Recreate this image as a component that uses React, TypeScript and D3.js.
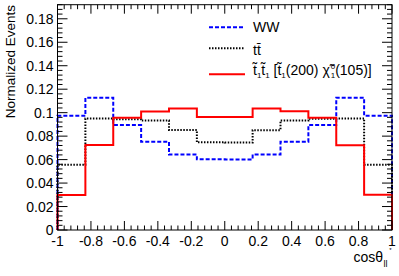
import React from "react";
import * as d3 from "d3";

const binEdges = [-1, -0.8333, -0.6667, -0.5, -0.3333, -0.1667, 0, 0.1667, 0.3333, 0.5, 0.6667, 0.8333, 1];
const wwValues = [0.0973, 0.1127, 0.0894, 0.0752, 0.0643, 0.0602, 0.0601, 0.0643, 0.0752, 0.0894, 0.1128, 0.0974];
const ttValues = [0.0555, 0.0951, 0.0944, 0.0933, 0.0852, 0.0747, 0.0745, 0.0851, 0.0933, 0.0948, 0.0951, 0.0555];
const stopValues = [0.0299, 0.0724, 0.0956, 0.101, 0.1036, 0.0963, 0.0964, 0.1035, 0.1013, 0.0956, 0.0723, 0.03];
const xTickValues = [-1, -0.8, -0.6, -0.4, -0.2, 0, 0.2, 0.4, 0.6, 0.8, 1];
const xTickLabels = ["-1", "-0.8", "-0.6", "-0.4", "-0.2", "0", "0.2", "0.4", "0.6", "0.8", "1"];
const yTickValues = [0, 0.02, 0.04, 0.06, 0.08, 0.1, 0.12, 0.14, 0.16, 0.18];
const yTickLabels = ["0", "0.02", "0.04", "0.06", "0.08", "0.1", "0.12", "0.14", "0.16", "0.18"];

const W = 399, H = 276;
const L = 57.5, R = 392, T = 4.7, B = 230;
const FONT = "'Liberation Sans', Arial, Helvetica, sans-serif";

export default function App() {
  const x = d3.scaleLinear().domain([-1, 1]).range([L, R]);
  const y = d3.scaleLinear().domain([0, 0.192]).range([B, T]);

  const stepPath = (vals: number[]) => {
    const pts: [number, number][] = [[x(binEdges[0]), y(0)]];
    vals.forEach((v, i) => {
      pts.push([x(binEdges[i]), y(v)]);
      pts.push([x(binEdges[i + 1]), y(v)]);
    });
    pts.push([x(binEdges[binEdges.length - 1]), y(0)]);
    return d3.line()(pts) as string;
  };

  const xMinor = d3.range(-1, 1.0001, 0.04);
  const yMinor = d3.range(0, 0.1921, 0.004);

  const fs = 14;
  const series = [
    { vals: wwValues, color: "#0000ff", dash: "4,2", w: 2 },
    { vals: ttValues, color: "#000000", dash: "1.5,1.5", w: 2 },
    { vals: stopValues, color: "#ff0000", dash: null, w: 2 },
  ];

  return (
    <div style={{ position: "fixed", left: 0, top: 0 }}>
      <svg width={W} height={H} style={{ display: "block", background: "#fff" }} fontFamily={FONT}>
        <rect x={0} y={0} width={W} height={H} fill="#fff" />
        {series.map((s, i) => (
          <path key={i} d={stepPath(s.vals)} fill="none" stroke={s.color} strokeWidth={s.w}
            strokeDasharray={s.dash || undefined} />
        ))}
        <rect x={L} y={T} width={R - L} height={B - T} fill="none" stroke="#000" strokeWidth={1} />
        {xMinor.map((v, i) => {
          const isMajor = Math.abs(Math.round(v / 0.2) * 0.2 - v) < 1e-6;
          const len = isMajor ? 9 : 4.5;
          return (
            <g key={"xt" + i} stroke="#000" strokeWidth={1}>
              <line x1={x(v)} x2={x(v)} y1={B} y2={B - len} />
              <line x1={x(v)} x2={x(v)} y1={T} y2={T + len} />
            </g>
          );
        })}
        {yMinor.map((v, i) => {
          const isMajor = Math.abs(Math.round(v / 0.02) * 0.02 - v) < 1e-7;
          const len = isMajor ? 10 : 5;
          return (
            <g key={"yt" + i} stroke="#000" strokeWidth={1}>
              <line x1={L} x2={L + len} y1={y(v)} y2={y(v)} />
              <line x1={R} x2={R - len} y1={y(v)} y2={y(v)} />
            </g>
          );
        })}
        {xTickValues.map((v, i) => (
          <text key={"xl" + i} x={x(v)} y={245.5} textAnchor="middle" fontSize={fs} fill="#000">
            {xTickLabels[i]}
          </text>
        ))}
        {yTickValues.map((v, i) => (
          <text key={"yl" + i} x={53.5} y={y(v)} dy="0.36em" textAnchor="end" fontSize={fs} fill="#000">
            {yTickLabels[i]}
          </text>
        ))}
        <text transform="translate(15,5) rotate(-90)" textAnchor="end" fontSize={13.5} fill="#000">
          Normalized Events
        </text>
        <text x={383} y={262} textAnchor="end" fontSize={14} fill="#000">cosθ</text>
        <text x={383.5} y={267} fontSize={9} fill="#000">ll</text>
        <text x={390.5} y={252} fontSize={6} textAnchor="middle" fill="#000">*</text>
        <g>
          <line x1={209} x2={245} y1={27.3} y2={27.3} stroke="#0000ff" strokeWidth={2} strokeDasharray="4,2" />
          <text x={253} y={27.3} dy="0.36em" fontSize={fs} fill="#000">WW</text>
          <line x1={209} x2={245} y1={48.3} y2={48.3} stroke="#000" strokeWidth={2} strokeDasharray="1.5,1.5" />
          <text x={253} y={50} dy="0.36em" fontSize={fs} fill="#000">t{"t\u0304"}</text>
          <line x1={209} x2={245} y1={74.3} y2={74.3} stroke="#ff0000" strokeWidth={2} />
          <text x={253} y={75} fontSize={fs} fill="#000">
            <tspan>{"t\u0303"}</tspan>
            <tspan fontSize={8} dy={3}>1</tspan>
            <tspan dy={-3}>{"t\u0303"}</tspan>
            <tspan fontSize={8} dy={3}>1</tspan>
            <tspan dy={-3}>{" [t\u0303"}</tspan>
            <tspan fontSize={8} dy={3}>1</tspan>
            <tspan dy={-3}>{"(200) \u03c7\u0303"}</tspan>
            <tspan fontSize={8} dx={1} dy={-6}>0</tspan>
            <tspan fontSize={8} dx={-4.5} dy={9}>1</tspan>
            <tspan dy={-3}>(105)]</tspan>
          </text>
        </g>
      </svg>
    </div>
  );
}
